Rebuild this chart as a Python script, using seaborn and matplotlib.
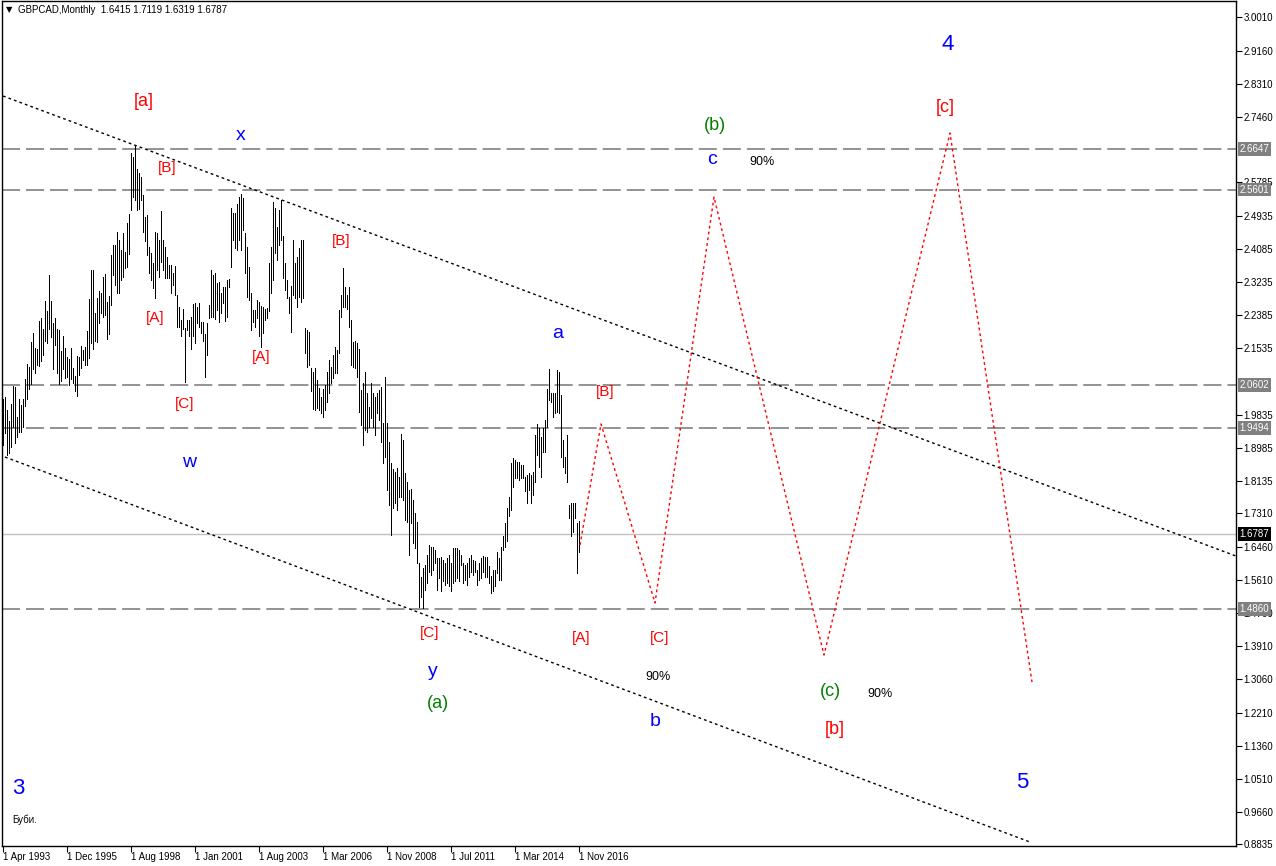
import numpy as np
import pandas as pd
import matplotlib
matplotlib.use("Agg")
import matplotlib.pyplot as plt
import seaborn as sns

# ---------------- data ----------------
highs = [
    2.023, 2.030, 1.996, 1.968, 2.011, 2.057, 2.054, 1.979, 2.023, 2.009,
    2.025, 2.076, 2.113, 2.105, 2.170, 2.194, 2.154, 2.151, 2.223, 2.231,
    2.202, 2.274, 2.248, 2.341, 2.274, 2.218, 2.231, 2.204, 2.201, 2.146,
    2.184, 2.154, 2.131, 2.126, 2.154, 2.103, 2.083, 2.134, 2.132, 2.160,
    2.149, 2.156, 2.199, 2.279, 2.354, 2.354, 2.245, 2.283, 2.300, 2.296,
    2.335, 2.344, 2.271, 2.288, 2.393, 2.417, 2.419, 2.451, 2.431, 2.405,
    2.450, 2.400, 2.474, 2.497, 2.653, 2.644, 2.674, 2.612, 2.603, 2.593,
    2.546, 2.489, 2.495, 2.414, 2.397, 2.373, 2.451, 2.448, 2.431, 2.505,
    2.431, 2.412, 2.388, 2.367, 2.367, 2.347, 2.364, 2.290, 2.260, 2.226,
    2.254, 2.205, 2.226, 2.226, 2.233, 2.267, 2.269, 2.260, 2.269, 2.221,
    2.221, 2.190, 2.218, 2.264, 2.354, 2.340, 2.347, 2.322, 2.323, 2.296,
    2.310, 2.310, 2.328, 2.332, 2.512, 2.499, 2.499, 2.523, 2.540, 2.549,
    2.538, 2.448, 2.414, 2.363, 2.294, 2.252, 2.252, 2.277, 2.273, 2.262,
    2.260, 2.254, 2.256, 2.371, 2.414, 2.527, 2.512, 2.465, 2.508, 2.533,
    2.440, 2.371, 2.329, 2.286, 2.312, 2.431, 2.371, 2.388, 2.410, 2.431,
    2.431, 2.205, 2.201, 2.196, 2.103, 2.094, 2.103, 2.073, 2.051, 2.030,
    2.049, 2.060, 2.094, 2.124, 2.107, 2.137, 2.158, 2.149, 2.252, 2.290,
    2.358, 2.310, 2.290, 2.310, 2.226, 2.171, 2.173, 2.168, 2.151, 2.047,
    2.066, 2.094, 2.038, 2.004, 2.064, 2.038, 2.030, 2.040, 2.047, 2.055,
    1.962, 2.079, 1.962, 1.915, 1.859, 1.844, 1.838, 1.847, 1.825, 1.934,
    1.919, 1.834, 1.812, 1.791, 1.793, 1.764, 1.731, 1.710, 1.603, 1.569,
    1.591, 1.599, 1.625, 1.650, 1.646, 1.646, 1.637, 1.616, 1.616, 1.620,
    1.612, 1.603, 1.616, 1.625, 1.603, 1.642, 1.642, 1.642, 1.637, 1.625,
    1.603, 1.599, 1.603, 1.616, 1.625, 1.612, 1.608, 1.586, 1.603, 1.616,
    1.622, 1.620, 1.620, 1.595, 1.571, 1.586, 1.586, 1.633, 1.616, 1.646,
    1.672, 1.706, 1.744, 1.774, 1.859, 1.872, 1.868, 1.863, 1.863, 1.855,
    1.855, 1.825, 1.829, 1.834, 1.829, 1.838, 1.932, 1.960, 1.949, 1.927,
    1.949, 1.970, 2.049, 2.100, 2.040, 2.038, 2.040, 2.098, 2.094, 2.034,
    1.919, 1.876, 1.932, 1.753, 1.757, 1.757, 1.757, 1.706, 1.7119,
]
lows = [
    1.906, 1.938, 1.880, 1.885, 1.900, 1.953, 1.910, 1.927, 1.940, 1.940,
    1.953, 2.006, 2.025, 2.049, 2.062, 2.100, 2.091, 2.110, 2.108, 2.122,
    2.136, 2.172, 2.166, 2.204, 2.182, 2.100, 2.163, 2.090, 2.062, 2.071,
    2.100, 2.078, 2.080, 2.059, 2.076, 2.064, 2.044, 2.032, 2.085, 2.103,
    2.124, 2.110, 2.110, 2.129, 2.166, 2.151, 2.173, 2.170, 2.219, 2.245,
    2.235, 2.238, 2.177, 2.190, 2.264, 2.340, 2.315, 2.296, 2.296, 2.328,
    2.337, 2.359, 2.363, 2.395, 2.508, 2.542, 2.533, 2.508, 2.509, 2.532,
    2.452, 2.429, 2.393, 2.346, 2.328, 2.307, 2.282, 2.354, 2.335, 2.375,
    2.354, 2.333, 2.333, 2.333, 2.294, 2.315, 2.291, 2.209, 2.209, 2.184,
    2.204, 2.068, 2.201, 2.184, 2.153, 2.184, 2.166, 2.218, 2.209, 2.192,
    2.173, 2.081, 2.136, 2.230, 2.235, 2.235, 2.228, 2.252, 2.221, 2.243,
    2.269, 2.224, 2.235, 2.311, 2.363, 2.431, 2.410, 2.405, 2.431, 2.405,
    2.457, 2.346, 2.286, 2.277, 2.201, 2.222, 2.209, 2.231, 2.184, 2.158,
    2.192, 2.226, 2.231, 2.248, 2.294, 2.329, 2.397, 2.380, 2.418, 2.431,
    2.333, 2.303, 2.282, 2.243, 2.196, 2.290, 2.282, 2.260, 2.286, 2.273,
    2.282, 2.141, 2.107, 2.111, 2.045, 1.998, 1.996, 2.000, 1.996, 1.987,
    1.977, 1.996, 2.017, 2.039, 2.064, 2.077, 2.091, 2.090, 2.141, 2.235,
    2.260, 2.260, 2.254, 2.209, 2.111, 2.105, 2.102, 2.079, 1.990, 1.957,
    1.906, 1.945, 1.940, 1.953, 1.974, 1.953, 1.932, 1.987, 1.970, 1.915,
    1.859, 1.876, 1.791, 1.753, 1.676, 1.744, 1.757, 1.740, 1.774, 1.774,
    1.765, 1.714, 1.710, 1.625, 1.706, 1.655, 1.642, 1.603, 1.492, 1.518,
    1.488, 1.535, 1.552, 1.582, 1.574, 1.586, 1.603, 1.535, 1.565, 1.531,
    1.557, 1.548, 1.552, 1.544, 1.531, 1.552, 1.557, 1.565, 1.557, 1.599,
    1.552, 1.561, 1.548, 1.569, 1.582, 1.573, 1.582, 1.548, 1.561, 1.565,
    1.582, 1.569, 1.569, 1.552, 1.528, 1.531, 1.544, 1.578, 1.561, 1.561,
    1.637, 1.646, 1.661, 1.723, 1.740, 1.799, 1.821, 1.821, 1.817, 1.821,
    1.821, 1.787, 1.757, 1.791, 1.757, 1.778, 1.812, 1.881, 1.851, 1.825,
    1.887, 1.889, 1.953, 2.021, 2.017, 1.979, 1.989, 1.991, 1.987, 1.876,
    1.851, 1.834, 1.812, 1.718, 1.672, 1.684, 1.718, 1.578, 1.6319,
]
bar_index = list(range(len(highs)))

date_labels = ["1 Apr 1993", "1 Dec 1995", "1 Aug 1998", "1 Jan 2001", "1 Aug 2003",
               "1 Mar 2006", "1 Nov 2008", "1 Jul 2011", "1 Mar 2014", "1 Nov 2016"]
date_positions = [0, 32, 64, 96, 128, 160, 192, 224, 256, 288]

price_ticks = [3.0010, 2.9160, 2.8310, 2.7460, 2.5785, 2.4935, 2.4085, 2.3235,
               2.2385, 2.1535, 1.9835, 1.8985, 1.8135, 1.7310, 1.6460, 1.5610,
               1.4760, 1.3910, 1.3060, 1.2210, 1.1360, 1.0510, 0.9660, 0.8835]
price_tick_labels = ["%.4f" % v for v in price_ticks]

levels = [2.6647, 2.5601, 2.0602, 1.9494, 1.4860]
last_close = 1.6787

channel_upper_x = [-0.15, 616.35]
channel_upper_y = [2.7995, 1.6218]
channel_lower_x = [0.85, 513.35]
channel_lower_y = [1.8753, 0.8896]

proj_x = [288.35, 298.85, 325.85, 355.35, 410.35, 473.35, 514.35]
proj_y = [1.650, 1.960, 1.5015, 2.541, 1.3684, 2.7048, 1.2992]

# annotation labels: text, pixel x, pixel y, colour, fontsize
RED, BLUE, GREEN, BLACK = "#FF0000", "#0000FF", "#008000", "#000000"
wave_labels = [
    ("[a]", 144, 102, RED, 13), ("[B]", 167, 168, RED, 11), ("x", 241, 136, BLUE, 14),
    ("[B]", 341, 241, RED, 11), ("[A]", 155, 318, RED, 11), ("[A]", 261, 357, RED, 11),
    ("[C]", 185, 404, RED, 11), ("w", 189, 463, BLUE, 14), ("a", 558, 334, BLUE, 14),
    ("[B]", 605, 392, RED, 11), ("[C]", 430, 633, RED, 11), ("y", 433, 672, BLUE, 14),
    ("(a)", 438, 704, GREEN, 13), ("[A]", 581, 638, RED, 11), ("[C]", 660, 638, RED, 11),
    ("90%", 658, 677, BLACK, 9), ("b", 655, 722, BLUE, 14), ("(b)", 715, 125, GREEN, 13),
    ("c", 712, 159, BLUE, 14), ("90%", 762, 162, BLACK, 9), ("(c)", 830, 692, GREEN, 13),
    ("90%", 880, 694, BLACK, 9), ("[b]", 835, 729, RED, 13), ("4", 948, 44, BLUE, 16),
    ("[c]", 945, 107, RED, 13), ("5", 1022, 783, BLUE, 16), ("3", 18, 788, BLUE, 16),
]

# ---------------- figure ----------------
sns.set_theme(style="white")
plt.rcParams["font.family"] = ["Liberation Sans", "DejaVu Sans"]
plt.rcParams["lines.scale_dashes"] = False

W, H = 1276, 866
fig = plt.figure(figsize=(W / 100, H / 100), dpi=100)
fig.patch.set_facecolor("white")
ax = fig.add_axes([2.3 / W, 20 / H, (1236 - 2.3) / W, 845 / H])
ax.set_facecolor("white")
ax.set_xlim(-0.5, 616.35)
ax.set_ylim(0.87944, 3.04273)

for s in ax.spines.values():
    s.set_color("black")
    s.set_linewidth(1.0)

# level lines
for lv in levels:
    ax.axhline(lv, color="#808080", lw=1.2, dashes=(13, 4.3), zorder=1)
ax.axhline(last_close, color="#C0C0C0", lw=1.0, zorder=1)

# channel lines
sns.lineplot(x=channel_upper_x, y=channel_upper_y, ax=ax, color="black", lw=1.0,
             linestyle=(0, (2.0, 2.2)), estimator=None, sort=False, zorder=2)
sns.lineplot(x=channel_lower_x, y=channel_lower_y, ax=ax, color="black", lw=1.0,
             linestyle=(0, (2.0, 2.2)), estimator=None, sort=False, zorder=2)

# price bars
ax.vlines(bar_index, lows, highs, color="black", lw=0.7, zorder=3, antialiased=False)

# projection
sns.lineplot(x=proj_x, y=proj_y, ax=ax, color="#FF0000", lw=1.0,
             linestyle=(0, (2.0, 2.2)), estimator=None, sort=False, zorder=3)

# axes ticks
ax.yaxis.tick_right()
ax.set_yticks(price_ticks)
ax.set_yticklabels(price_tick_labels, fontsize=7)
ax.tick_params(axis="y", direction="out", length=4, width=0.8, pad=1.5, colors="black",
               right=True, left=False)
ax.set_xticks(date_positions)
ax.set_xticklabels(date_labels, fontsize=7, ha="left")
ax.tick_params(axis="x", direction="out", length=4, width=0.8, pad=0.5, colors="black",
               bottom=True)
ax.set_xlabel("")
ax.set_ylabel("")
ax.grid(False)

# level value boxes on the price axis
ytrans = ax.get_yaxis_transform()
for lv in levels:
    ax.annotate("%.4f" % lv, xy=(1, lv), xycoords=ytrans, xytext=(2.5, 0),
                textcoords="offset points", ha="left", va="center", fontsize=7,
                color="white", zorder=20, annotation_clip=False,
                bbox=dict(boxstyle="square,pad=0.2", fc="#808080", ec="none"))
ax.annotate("%.4f" % last_close, xy=(1, last_close), xycoords=ytrans, xytext=(2.5, 0),
            textcoords="offset points", ha="left", va="center", fontsize=7,
            color="white", zorder=20, annotation_clip=False,
            bbox=dict(boxstyle="square,pad=0.2", fc="black", ec="none"))

def px(x, y):
    return x / W, 1 - y / H

# wave labels
for txt, x, y, col, fs in wave_labels:
    fig.text(*px(x, y), txt, color=col, fontsize=fs, ha="center", va="center")

# header and footer text
fig.text(*px(6, 10), "\u25BC", fontsize=6, ha="left", va="center", color="black",
         family=["DejaVu Sans"])
fig.text(*px(18, 10), "GBPCAD,Monthly  1.6415 1.7119 1.6319 1.6787", fontsize=7,
         ha="left", va="center", color="black")
fig.text(*px(12, 820), "Буби.", fontsize=7, ha="left", va="center", color="black")

fig.savefig("out.png", dpi=100, facecolor="white")
